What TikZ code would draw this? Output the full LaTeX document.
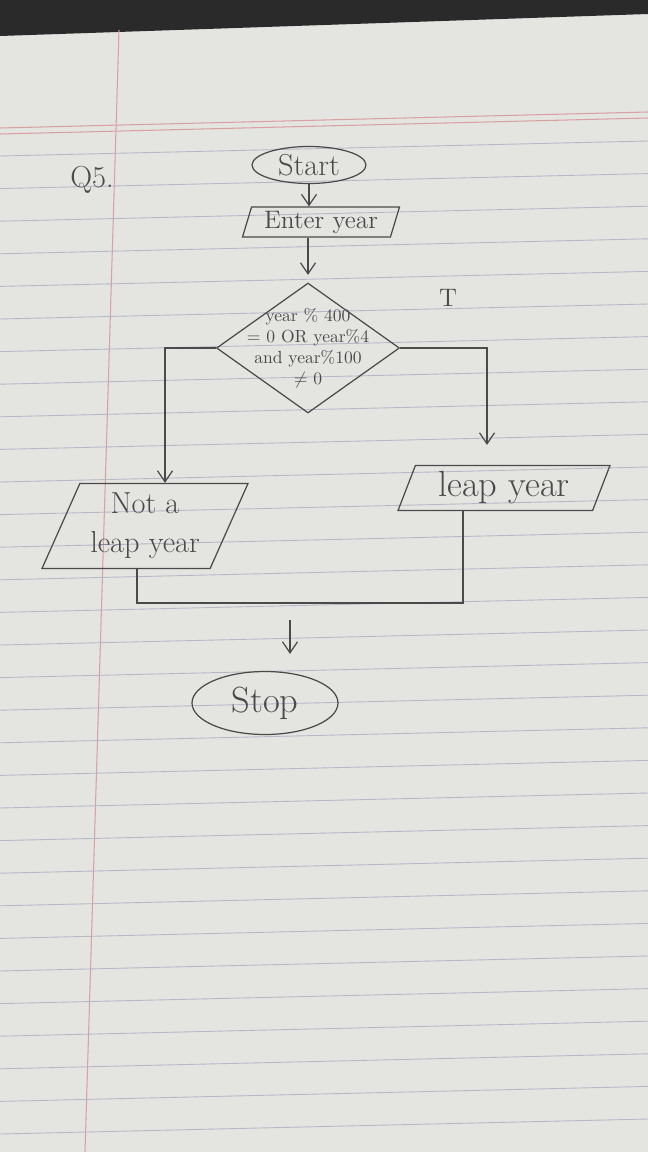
\documentclass[tikz,border=0pt]{standalone}
\usepackage{xcolor}
\usepackage{tikz}
\usetikzlibrary{arrows.meta, positioning, shapes.geometric, calc}
\definecolor{mypaper}{HTML}{E4E4E1}
\definecolor{myrule}{HTML}{B4B9C2}
\definecolor{mymargin}{HTML}{D9A0A4}
\definecolor{mypencil}{HTML}{4A4A4A}
\definecolor{myedge}{HTML}{2A2A2A}
\tikzset{
terminal/.style={
draw=mypencil,
ellipse,
line width=0.7pt,
inner sep=0pt,
font=\LARGE,
text=mypencil
},
iobox/.style={
draw=mypencil,
trapezium,
trapezium left angle=62,
trapezium right angle=118,
trapezium stretches body,
line width=0.7pt,
inner sep=0pt,
align=center,
text=mypencil
},
decision/.style={
draw=mypencil,
diamond,
line width=0.7pt,
inner sep=-14pt,
font=\normalsize,
align=center,
text=mypencil
},
labelbox/.style={
font=\LARGE,
text=mypencil
},
arrow/.style={
-{Straight Barb[length=2.2mm,width=3mm]},
line width=0.7pt,
draw=mypencil
},
link/.style={
line width=0.7pt,
draw=mypencil
}
}

\begin{document}
\begin{tikzpicture}[x=0.02cm, y=-0.02cm]
\useasboundingbox (0,0) rectangle (648,1152);

% paper
\fill[mypaper] (0,0) rectangle (648,1152);
\fill[myedge] (0,0) -- (648,0) -- (648,14) -- (0,36) -- cycle;
\draw[mymargin, line width=0.6pt] (0,128) -- (648,112);
\draw[mymargin, line width=0.6pt] (0,134) -- (648,118);
\draw[mymargin, line width=0.6pt] (119,30) -- (85,1152);
\foreach \k in {0,...,30} {
  \draw[myrule, line width=0.5pt] (0,156+32.6*\k) -- (648,141+32.6*\k);
}

% flowchart
\node[labelbox] (qno) at (92,180) {Q5.};
\node[terminal, minimum width=2.28cm, minimum height=0.74cm] (start) at (309,165) {Start};
\node[iobox, font=\Large, trapezium left angle=68, trapezium right angle=112,
      minimum width=3.14cm, minimum height=0.6cm] (enter) at (321,222) {Enter year};
\node[decision, minimum width=3.66cm, minimum height=2.6cm] (dec) at (308,348)
  {year \% 400\\= 0 OR year\%4\\and year\%100\\$\neq$ 0};
\node[labelbox, font=\Large] (tlabel) at (448,298) {T};
\node[iobox, font=\huge, minimum width=4.24cm, minimum height=0.9cm] (leap) at (504,488) {leap year};
\node[iobox, font=\LARGE, trapezium left angle=60, trapezium right angle=120,
      minimum width=4.12cm, minimum height=1.7cm] (notleap) at (145,526) {Not a\\leap year};
\node[terminal, font=\huge, minimum width=2.92cm, minimum height=1.26cm] (stop) at (265,703) {Stop};
\coordinate (join) at (290,603);

\draw[arrow] (start.south) -- (start.south |- enter.north);
\draw[arrow] (dec.north |- enter.south) -- ([yshift=0.15cm]dec.north);
\draw[arrow] (dec.west) -| ([xshift=0.4cm]notleap.north);
\draw[arrow] (dec.east) -| ([xshift=-0.34cm,yshift=0.4cm]leap.north);
\draw[link] ([xshift=-0.16cm]notleap.south) |- (join);
\draw[link] ([xshift=-0.82cm]leap.south) |- (join);
\draw[arrow] ([yshift=-0.34cm]join) -- ([yshift=0.34cm]join |- stop.north);

\end{tikzpicture}
\end{document}
